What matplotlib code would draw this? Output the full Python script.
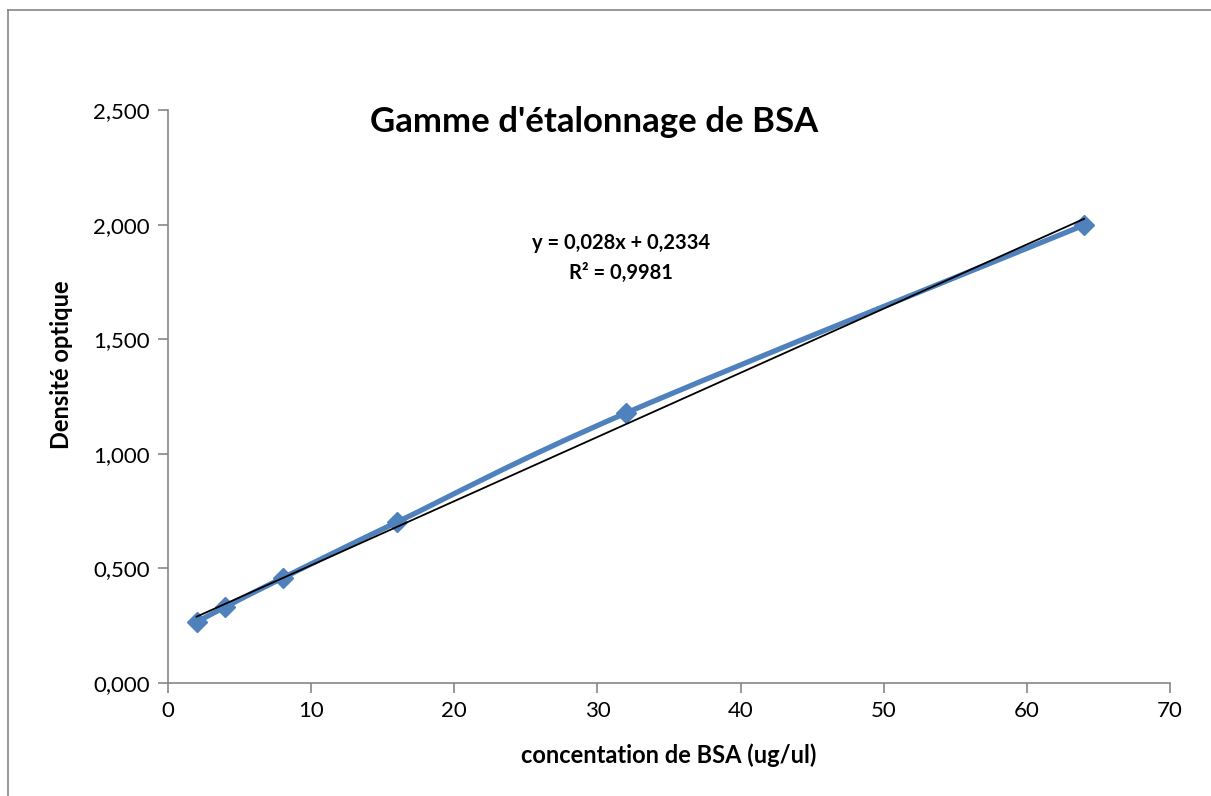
import matplotlib
matplotlib.use('Agg')
import matplotlib.pyplot as plt
from matplotlib.path import Path
from matplotlib.patches import PathPatch
from matplotlib.lines import Line2D
from matplotlib.ticker import FuncFormatter
import numpy as np

# data
conc = [2, 4, 8, 16, 32, 64]
do = [0.266, 0.332, 0.458, 0.702, 1.178, 1.998]
slope, intercept = 0.028, 0.2334
r2 = 0.9981

BLUE = "#4F81BD"
GREY = "#868686"
plt.rcParams['font.family'] = ['Lato', 'DejaVu Sans']

fig = plt.figure(figsize=(12.11, 7.96), dpi=100)
ax = fig.add_axes([168/1211, 1-683/796, (1170-168)/1211, (683-110)/796])

# outer chart frame (left + top visible)
fig.add_artist(Line2D([8/1211, 8/1211], [0, 1-10/796], transform=fig.transFigure,
                      color=GREY, lw=1.2))
fig.add_artist(Line2D([8/1211, 1], [1-10/796, 1-10/796], transform=fig.transFigure,
                      color=GREY, lw=1.2))

# smoothed series line (bezier through the points, like Excel)
pts = np.column_stack([conc, do]).astype(float)
n = len(pts)
verts = [pts[0]]
codes = [Path.MOVETO]
for i in range(n - 1):
    p0 = pts[max(i-1, 0)]; p1 = pts[i]; p2 = pts[i+1]; p3 = pts[min(i+2, n-1)]
    c1 = p1 + (p2 - p0) / 6
    c2 = p2 - (p3 - p1) / 6
    verts += [c1, c2, p2]
    codes += [Path.CURVE4] * 3
ax.add_patch(PathPatch(Path(verts, codes), fc='none', ec=BLUE, lw=3.8,
                       capstyle='round', joinstyle='round', zorder=3))
ax.plot(conc, do, ls='none', marker='D', ms=10, color=BLUE, zorder=4)

# linear trendline
tx = np.array([conc[0], conc[-1]])
ax.plot(tx, slope*tx + intercept, color='black', lw=1.3, zorder=5)

ax.set_xlim(0, 70)
ax.set_ylim(0, 2.5)
ax.set_xticks(range(0, 71, 10))
ax.set_yticks(np.arange(0, 2.51, 0.5))
ax.yaxis.set_major_formatter(FuncFormatter(lambda v, p: f"{v:.3f}".replace('.', ',')))
for s in ['top', 'right']:
    ax.spines[s].set_visible(False)
for s in ['left', 'bottom']:
    ax.spines[s].set_color(GREY)
    ax.spines[s].set_linewidth(1.2)
ax.tick_params(direction='out', length=7, width=1.2, color=GREY, labelsize=16, pad=6)

ax.set_xlabel("concentation de BSA (ug/ul)", fontsize=17, fontweight='bold', labelpad=16)
ax.set_ylabel("Densité optique", fontsize=17, fontweight='bold', labelpad=12)
ax.yaxis.set_label_coords(-0.095, 0.555)

ax.text(0.425, 0.979, "Gamme d'étalonnage de BSA", transform=ax.transAxes,
        ha='center', va='center', fontsize=25, fontweight='bold')
ax.text(0.452, 0.742, f"y = 0,028x + 0,2334\nR² = {r2:.4f}".replace('0.', '0,'),
        transform=ax.transAxes, ha='center', va='center', fontsize=14.5,
        fontweight='bold', linespacing=1.65)

fig.savefig("out.png", dpi=100, facecolor='white')
